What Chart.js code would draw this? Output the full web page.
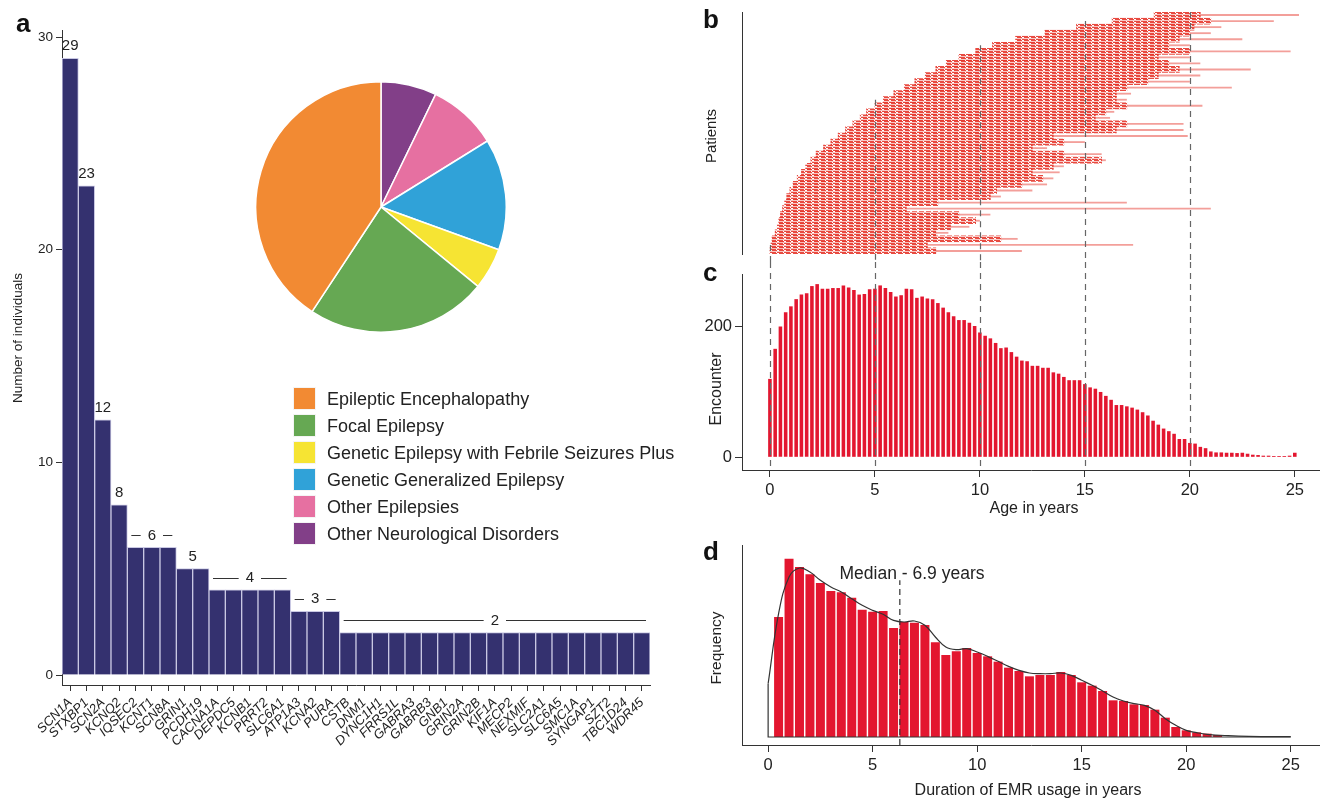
<!DOCTYPE html>
<html>
<head>
<meta charset="utf-8">
<script src="https://cdn.jsdelivr.net/npm/chart.js@4.4.1/dist/chart.umd.min.js"></script>
<style>
  body { margin: 0; background: #fff; font-family: "Liberation Sans", Arial, sans-serif; color: #222; }
  #fig { position: relative; width: 1320px; height: 801px; overflow: hidden; background: #fff; }
  canvas { position: absolute; }
  .txt { position: absolute; white-space: nowrap; line-height: 1; }
  .letter { font-weight: bold; font-size: 26px; color: #111; }
  .ctr { transform: translate(-50%, -50%); }
  .rot { transform: translate(-50%, -50%) rotate(-90deg); }
  .swatch { position: absolute; width: 23px; height: 23px; box-sizing: border-box; border: 1px solid #f4f4f4; }
</style>
</head>
<body>
<div id="fig">
  <canvas id="cA" width="680" height="801" style="left:0;top:0"></canvas>
  <canvas id="cPie" width="252" height="252" style="left:255px;top:81px"></canvas>
  <canvas id="cB" width="620" height="262" style="left:700px;top:0"></canvas>
  <canvas id="cC" width="620" height="255" style="left:700px;top:262px"></canvas>
  <canvas id="cD" width="620" height="271" style="left:700px;top:530px"></canvas>

  <div class="txt letter" style="left:16px;top:10px">a</div>
  <div class="txt letter" style="left:703px;top:6px">b</div>
  <div class="txt letter" style="left:703px;top:259px">c</div>
  <div class="txt letter" style="left:703px;top:538px">d</div>

  <div class="txt rot" style="left:18px;top:338px;font-size:13.5px">Number of individuals</div>
  <div class="txt rot" style="left:710px;top:136px;font-size:15px">Patients</div>
  <div class="txt rot" style="left:716px;top:389px;font-size:16px">Encounter</div>
  <div class="txt ctr" style="left:1034px;top:508px;font-size:16px">Age in years</div>
  <div class="txt rot" style="left:716px;top:648px;font-size:15.5px">Frequency</div>
  <div class="txt ctr" style="left:1028px;top:790px;font-size:16px">Duration of EMR usage in years</div>
  <div class="txt ctr" style="left:912px;top:574px;font-size:17.5px">Median - 6.9 years</div>

  <div id="legend"></div>
</div>

<script>
const FONT = '"Liberation Sans", Arial, sans-serif';
Chart.defaults.font.family = FONT;
Chart.defaults.color = '#222';
Chart.defaults.animation = false;

// --- panel a : genes
const genes = ['SCN1A','STXBP1','SCN2A','KCNQ2','IQSEC2','KCNT1','SCN8A','GRIN1','PCDH19','CACNA1A','DEPDC5','KCNB1','PRRT2','SLC6A1','ATP1A3','KCNA2','PURA','CSTB','DNM1','DYNC1H1','FRRS1L','GABRA3','GABRB3','GNB1','GRIN2A','GRIN2B','KIF1A','MECP2','NEXMIF','SLC2A1','SLC6A5','SMC1A','SYNGAP1','SZT2','TBC1D24','WDR45'];
const individuals = [29,23,12,8,6,6,6,5,5,4,4,4,4,4,3,3,3,2,2,2,2,2,2,2,2,2,2,2,2,2,2,2,2,2,2,2];
const individualTicks = [0,10,20,30];
// groups of bars sharing one count label (first gene, last gene)
const countGroups = [['SCN1A','SCN1A'],['STXBP1','STXBP1'],['SCN2A','SCN2A'],['KCNQ2','KCNQ2'],['IQSEC2','SCN8A'],['GRIN1','PCDH19'],['CACNA1A','SLC6A1'],['ATP1A3','PURA'],['CSTB','WDR45']];

// --- panel a : pie
const diagnoses = ['Epileptic Encephalopathy','Focal Epilepsy','Genetic Epilepsy with Febrile Seizures Plus','Genetic Generalized Epilepsy','Other Epilepsies','Other Neurological Disorders'];
const diagnosisCounts = [68,39,9,24,15,12];
const diagnosisColors = ['#f28a33','#66a853','#f6e433','#30a2d8','#e670a1','#823f88'];

// --- panel b : patient rows (bottom to top), age at first visit, end of dense part, last visit
const rowStart = [0.0,0.05,0.1,0.25,0.35,0.42,0.5,0.6,0.7,0.8,0.95,1.1,1.3,1.5,1.7,1.95,2.2,2.55,2.9,3.25,3.6,3.95,4.3,4.6,5.0,5.4,5.9,6.4,6.9,7.4,7.9,8.4,9.0,9.8,10.6,11.7,13.1,14.6,16.3,18.3];
const rowDense = [7.9,7.5,11.0,7.9,8.6,9.8,9.0,6.5,8.0,10.5,10.8,12.0,13.0,12.5,13.5,15.8,14.0,12.5,14.0,13.5,16.5,17.0,15.5,16.0,17.0,16.5,16.5,17.0,18.0,18.5,19.5,19.0,18.5,20.0,19.0,19.5,20.0,20.2,21.0,20.5];
const rowEnd = [12.0,17.3,11.8,8.5,9.5,10.0,10.5,21.0,17.0,11.0,12.5,13.2,13.5,13.8,14.0,16.0,15.8,13.2,15.0,19.9,19.7,19.7,16.2,16.4,20.6,17.0,17.2,22.0,20.0,20.5,22.9,20.5,20.0,24.8,20.0,22.5,21.0,21.5,24.0,25.2];
const guideAges = [0,5,10,15,20];

// --- panel c : encounters per quarter year of age, from age 0
const ageBinWidth = 0.25;
const encounters = [120,166,200,222,231,242,249,251,262,265,258,258,259,259,263,260,256,249,250,257,
  258,263,259,253,246,248,258,257,244,246,243,242,236,229,222,216,210,210,206,201,
  191,186,182,175,167,168,161,154,148,147,140,140,137,137,130,128,123,118,118,118,
  112,107,105,100,94,88,80,80,78,76,73,69,64,56,50,44,40,36,28,28,
  22,21,16,14,9,7.5,7.5,7,7,6.5,7,5.5,4,3.5,2.5,2.5,2,2,2,2.5,7];
const ageTicks = [0,5,10,15,20,25];
const encounterTicks = [0,200];

// --- panel d : EMR usage duration histogram (bins centred 0.5, 1.0, ...)
const durFirstBin = 0.5, durBinWidth = 0.5;
const durationFreq = [360,535,510,488,462,438,434,418,382,376,378,327,345,343,336,284,246,257,267,252,
  242,226,208,198,182,186,186,195,186,164,154,138,110,108,98,96,82,58,30,20,14,10,6];
const densityX = [0,0.5,1,1.5,2,2.5,3,3.5,4,4.5,5,5.5,6,6.5,7,7.5,8,8.5,9,9.5,10,10.5,11,11.5,12,12.5,13,13.5,14,14.5,15,15.5,16,16.5,17,17.5,18,18.5,19,19.5,20,20.5,21,22,23,25];
const densityY = [160,370,480,507,495,470,450,435,415,395,380,368,350,345,348,335,300,270,262,265,255,242,227,212,200,192,190,190,192,185,170,155,138,120,108,100,95,80,55,35,20,13,8,4,2,1];
const medianLine = 6.3;

const axisCol = '#333';
const noLegend = { legend: { display: false }, tooltip: { enabled: false } };

// count labels above bars, with dashes over groups
const groupLabels = {
  id: 'groupLabels',
  afterDatasetsDraw(chart) {
    const { ctx, scales: { x, y } } = chart;
    const half = (x.getPixelForValue(1) - x.getPixelForValue(0)) / 2;
    ctx.save();
    ctx.font = '15px ' + FONT;
    ctx.fillStyle = '#222';
    ctx.strokeStyle = '#333';
    ctx.lineWidth = 1;
    ctx.textAlign = 'center';
    ctx.textBaseline = 'middle';
    countGroups.forEach(([g0, g1]) => {
      const i0 = genes.indexOf(g0), i1 = genes.indexOf(g1);
      const left = x.getPixelForValue(i0) - half, right = x.getPixelForValue(i1) + half;
      const cx = (left + right) / 2, cy = y.getPixelForValue(individuals[i0]) - 12;
      const txt = String(individuals[i0]);
      ctx.fillText(txt, cx, cy);
      if (i1 - i0 >= 2) {
        const w = ctx.measureText(txt).width / 2 + 7;
        ctx.beginPath();
        ctx.moveTo(left + 4, Math.round(cy) + 0.5); ctx.lineTo(cx - w, Math.round(cy) + 0.5);
        ctx.moveTo(cx + w, Math.round(cy) + 0.5); ctx.lineTo(right - 4, Math.round(cy) + 0.5);
        ctx.stroke();
      }
    });
    ctx.restore();
  }
};

new Chart(document.getElementById('cA'), {
  type: 'bar',
  data: { labels: genes, datasets: [{ data: individuals, backgroundColor: '#34316f', borderColor: '#c9c8e3', borderWidth: 1, barPercentage: 1, categoryPercentage: 1 }] },
  options: {
    responsive: false, plugins: noLegend,
    layout: { padding: { top: 30, right: 30 } },
    scales: {
      x: {
        grid: { offset: false, drawOnChartArea: false, tickLength: 6, color: axisCol },
        border: { color: axisCol },
        ticks: { autoSkip: false, minRotation: 45, maxRotation: 45, padding: 4, font: { size: 13, style: 'italic' } },
        afterFit(s) { s.height = 116; }
      },
      y: {
        min: -0.47, max: 30.33,
        afterBuildTicks(s) { s.ticks = individualTicks.map(v => ({ value: v })); },
        grid: { drawOnChartArea: false, tickLength: 6, color: axisCol },
        border: { color: axisCol },
        ticks: { padding: 3, font: { size: 13.5 } },
        afterFit(s) { s.width = 62; }
      }
    }
  },
  plugins: [groupLabels]
});

new Chart(document.getElementById('cPie'), {
  type: 'pie',
  data: { labels: diagnoses.slice().reverse(), datasets: [{ data: diagnosisCounts.slice().reverse(), backgroundColor: diagnosisColors.slice().reverse(), borderColor: '#fff', borderWidth: 1.5 }] },
  options: { responsive: false, plugins: noLegend }
});

// legend for the pie
const legend = document.getElementById('legend');
diagnoses.forEach((d, i) => {
  const top = 387 + i * 27;
  const sw = document.createElement('div');
  sw.className = 'swatch';
  sw.style.left = '293px'; sw.style.top = top + 'px'; sw.style.background = diagnosisColors[i];
  legend.appendChild(sw);
  const t = document.createElement('div');
  t.className = 'txt';
  t.style.left = '327px'; t.style.top = (top + 3) + 'px'; t.style.fontSize = '18px';
  t.textContent = d;
  legend.appendChild(t);
});

// streaky fill for the dense part of the patient raster
function streakPattern(alpha) {
  const c = document.createElement('canvas');
  c.width = 7; c.height = 3;
  const g = c.getContext('2d');
  g.fillStyle = `rgba(228,42,30,${alpha})`;
  g.fillRect(0, 0, 6, 1);
  g.fillRect(2, 1, 5, 1);
  g.fillStyle = `rgba(228,42,30,${alpha * 0.3})`;
  g.fillRect(0, 2, 7, 1);
  return g.createPattern(c, 'repeat');
}

// panel b
const guidesB = {
  id: 'guidesB',
  afterDatasetsDraw(chart) {
    const { ctx, scales: { x, y } } = chart;
    ctx.save();
    ctx.strokeStyle = '#666'; ctx.lineWidth = 1.2; ctx.setLineDash([6, 5]);
    guideAges.forEach(a => {
      const i = rowStart.findIndex(s => s > a);
      const top = i < 0 ? chart.chartArea.top : y.getPixelForValue(i);
      const px = Math.round(x.getPixelForValue(a)) + 0.5;
      ctx.beginPath(); ctx.moveTo(px, top); ctx.lineTo(px, chart.height); ctx.stroke();
    });
    ctx.restore();
  }
};

new Chart(document.getElementById('cB'), {
  type: 'bar',
  data: {
    labels: rowStart.map((_, i) => i),
    datasets: [
      { data: rowStart.map((s, i) => [s, rowDense[i]]), backgroundColor: streakPattern(0.85), grouped: false, barPercentage: 1, categoryPercentage: 1 },
      { data: rowDense.map((d, i) => [d, rowEnd[i]]), backgroundColor: 'rgba(228,42,30,0.45)', grouped: false, barPercentage: 0.3, categoryPercentage: 1 }
    ]
  },
  options: {
    responsive: false, indexAxis: 'y', plugins: noLegend,
    layout: { padding: { top: 12, bottom: 8 } },
    scales: {
      x: { type: 'linear', min: -1.33, max: 26.2, display: false },
      y: {
        reverse: true,
        ticks: { display: false },
        grid: { drawOnChartArea: false, drawTicks: false },
        border: { color: axisCol },
        afterFit(s) { s.width = 42; }
      }
    }
  },
  plugins: [guidesB]
});

// panel c
const guidesC = {
  id: 'guidesC',
  afterDatasetsDraw(chart) {
    const { ctx, scales: { x } } = chart;
    ctx.save();
    ctx.strokeStyle = '#666'; ctx.lineWidth = 1.2; ctx.setLineDash([6, 5]);
    guideAges.forEach(a => {
      const px = Math.round(x.getPixelForValue(a)) + 0.5;
      ctx.beginPath(); ctx.moveTo(px, 0); ctx.lineTo(px, chart.chartArea.bottom); ctx.stroke();
    });
    ctx.restore();
  }
};

new Chart(document.getElementById('cC'), {
  type: 'bar',
  data: { datasets: [{ data: encounters.map((v, i) => ({ x: i * ageBinWidth, y: v })), backgroundColor: '#e3162f', barPercentage: 0.68, categoryPercentage: 1 }] },
  options: {
    responsive: false, plugins: noLegend,
    layout: { padding: { top: 8 } },
    scales: {
      x: {
        type: 'linear', min: -1.33, max: 26.2, offset: false,
        afterBuildTicks(s) { s.ticks = ageTicks.map(v => ({ value: v })); },
        grid: { offset: false, drawOnChartArea: false, tickLength: 7, color: axisCol },
        border: { color: axisCol },
        ticks: { padding: 4, font: { size: 16.5 } },
        afterFit(s) { s.height = 47; }
      },
      y: {
        min: -19.4, max: 279.1,
        afterBuildTicks(s) { s.ticks = encounterTicks.map(v => ({ value: v })); },
        grid: { drawOnChartArea: false, tickLength: 7, color: axisCol },
        border: { color: axisCol },
        ticks: { padding: 3, font: { size: 16.5 } },
        afterFit(s) { s.width = 42; }
      }
    }
  },
  plugins: [guidesC]
});

// panel d
new Chart(document.getElementById('cD'), {
  type: 'bar',
  data: {
    datasets: [
      { type: 'line', data: densityX.map((v, i) => ({ x: v, y: densityY[i] })), borderColor: '#333', borderWidth: 1.2, pointRadius: 0, tension: 0.4, fill: false, order: 0 },
      { type: 'line', data: [{ x: densityX[0], y: densityY[0] }, { x: densityX[0], y: 0 }, { x: densityX[densityX.length - 1], y: 0 }], borderColor: '#333', borderWidth: 1.2, pointRadius: 0, tension: 0, fill: false, order: 0 },
      { type: 'line', data: [{ x: medianLine, y: -24 }, { x: medianLine, y: 470 }], borderColor: '#333', borderWidth: 1.2, borderDash: [6, 4], pointRadius: 0, fill: false, order: 0 },
      { data: durationFreq.map((v, i) => ({ x: durFirstBin + i * durBinWidth, y: v })), backgroundColor: '#e3162f', borderWidth: 0, barPercentage: 0.86, categoryPercentage: 1, order: 1 }
    ]
  },
  options: {
    responsive: false, plugins: noLegend,
    layout: { padding: { top: 15 } },
    scales: {
      x: {
        type: 'linear', min: -1.25, max: 26.4, offset: false,
        afterBuildTicks(s) { s.ticks = ageTicks.map(v => ({ value: v })); },
        grid: { offset: false, drawOnChartArea: false, tickLength: 7, color: axisCol },
        border: { color: axisCol },
        ticks: { padding: 4, font: { size: 16.5 } },
        afterFit(s) { s.height = 56; }
      },
      y: {
        min: -24, max: 576,
        ticks: { display: false },
        grid: { drawOnChartArea: false, drawTicks: false },
        border: { color: axisCol },
        afterFit(s) { s.width = 42; }
      }
    }
  }
});
</script>
</body>
</html>
